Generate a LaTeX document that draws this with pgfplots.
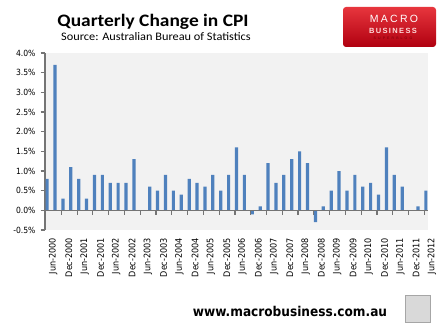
\documentclass[border=0pt]{standalone}
\usepackage{pgfplots}
\pgfplotsset{compat=1.18}
\usepackage{fontspec}
\setmainfont{DejaVu Sans Condensed}
\newfontfamily\calibri{Carlito}
\newfontfamily\arialf{Liberation Sans}
\definecolor{barblue}{HTML}{4F81BD}
\definecolor{axgray}{HTML}{747474}
\definecolor{plotbg}{HTML}{F2F2F2}
\definecolor{logored}{HTML}{E3121B}
\definecolor{logodark}{HTML}{B00010}
\begin{document}
\begin{tikzpicture}
\path[use as bounding box] (-45pt,-99pt) rectangle (396pt,230pt);
\begin{axis}[
  at={(0pt,0pt)}, anchor=south west,
  scale only axis, width=383pt, height=177pt,
  xmin=-0.27, xmax=48.27, ymin=-0.5, ymax=4.0,
  axis x line*=bottom, axis y line*=left,
  axis line style={-},
  x axis line style={draw=none},
  y axis line style={axgray, line width=1.2pt},
  axis background/.style={fill=plotbg},
  ytick={-0.5,0,0.5,1,1.5,2,2.5,3,3.5,4},
  yticklabel={\pgfmathprintnumber[fixed,fixed zerofill,precision=1]{\tick}\%},
  /pgf/number format/assume math mode=true,
  tick align=outside,
  y tick style={axgray, line width=1.2pt},
  major tick length=4.5pt,
  x tick style={draw=none},
  xtick={0,2,...,48},
  xticklabels={Jun-2000,Dec-2000,Jun-2001,Dec-2001,Jun-2002,Dec-2002,Jun-2003,Dec-2003,Jun-2004,Dec-2004,Jun-2005,Dec-2005,Jun-2006,Dec-2006,Jun-2007,Dec-2007,Jun-2008,Dec-2008,Jun-2009,Dec-2009,Jun-2010,Dec-2010,Jun-2011,Dec-2011,Jun-2012},
  xticklabel style={rotate=90, anchor=east, font=\fontsize{9}{9}\selectfont, yshift=-6pt},
  yticklabel style={font=\fontsize{8.5}{9}\selectfont, xshift=-1.5pt},
  ymajorgrids=false, xmajorgrids=false,
]
\addplot[ybar, bar width=3.2pt, fill=barblue, draw=none] coordinates {
(0,0.8) (1,3.7) (2,0.3) (3,1.1) (4,0.8) (5,0.3) (6,0.9) (7,0.9) (8,0.7) (9,0.7)
(10,0.7) (11,1.3) (12,0.0) (13,0.6) (14,0.5) (15,0.9) (16,0.5) (17,0.4) (18,0.8) (19,0.7)
(20,0.6) (21,0.9) (22,0.5) (23,0.9) (24,1.6) (25,0.9) (26,-0.1) (27,0.1) (28,1.2) (29,0.7)
(30,0.9) (31,1.3) (32,1.5) (33,1.2) (34,-0.3) (35,0.1) (36,0.5) (37,1.0) (38,0.5) (39,0.9)
(40,0.6) (41,0.7) (42,0.4) (43,1.6) (44,0.9) (45,0.6) (46,0.0) (47,0.1) (48,0.5)
};
% zero axis line
\addplot[axgray, line width=1.2pt, mark=none] coordinates {(-0.27,0) (48.27,0)};
% tick marks below the zero line, between category pairs
\addplot[ycomb, axgray, line width=1.2pt, mark=none] coordinates {
(1.8,-0.12) (3.8,-0.12) (5.8,-0.12) (7.8,-0.12) (9.8,-0.12) (11.8,-0.12)
(13.8,-0.12) (15.8,-0.12) (17.8,-0.12) (19.8,-0.12) (21.8,-0.12) (23.8,-0.12)
(25.8,-0.12) (27.8,-0.12) (29.8,-0.12) (31.8,-0.12) (33.8,-0.12) (35.8,-0.12)
(37.8,-0.12) (39.8,-0.12) (41.8,-0.12) (43.8,-0.12) (45.8,-0.12) (47.8,-0.12)
};
\end{axis}
% title
\node[font=\calibri\bfseries\fontsize{17.5}{18}\selectfont, inner sep=0, xscale=1.11] at (108pt,208pt) {Quarterly Change in CPI};
\node[font=\calibri\fontsize{11.5}{12}\selectfont, inner sep=0, xscale=1.07] at (111pt,193pt) {Source: Australian Bureau of Statistics};
% logo
\shade[top color=logored!85!white, bottom color=logodark, rounded corners=3pt] (298pt,183pt) rectangle (391pt,223pt);
\node[font=\arialf\fontsize{10.5}{11}\selectfont\addfontfeature{LetterSpace=22}, text=white, inner sep=0] at (349pt,211pt) {MACRO};
\node[font=\arialf\bfseries\fontsize{7.5}{8}\selectfont\addfontfeature{LetterSpace=18}, text=red!15!white, inner sep=0] at (348pt,199.5pt) {BUSINESS};
\node[font=\arialf\fontsize{3.5}{4}\selectfont\addfontfeature{LetterSpace=60}, text=logodark!70!black, inner sep=0] at (348pt,192pt) {SUPERBLOG};
% footer
\node[font=\bfseries\fontsize{13.5}{14}\selectfont, inner sep=0] at (245pt,-81pt) {www.macrobusiness.com.au};
\draw[gray!70, fill=gray!30] (360pt,-65pt) rectangle (385pt,-92pt);
\end{tikzpicture}
\end{document}
